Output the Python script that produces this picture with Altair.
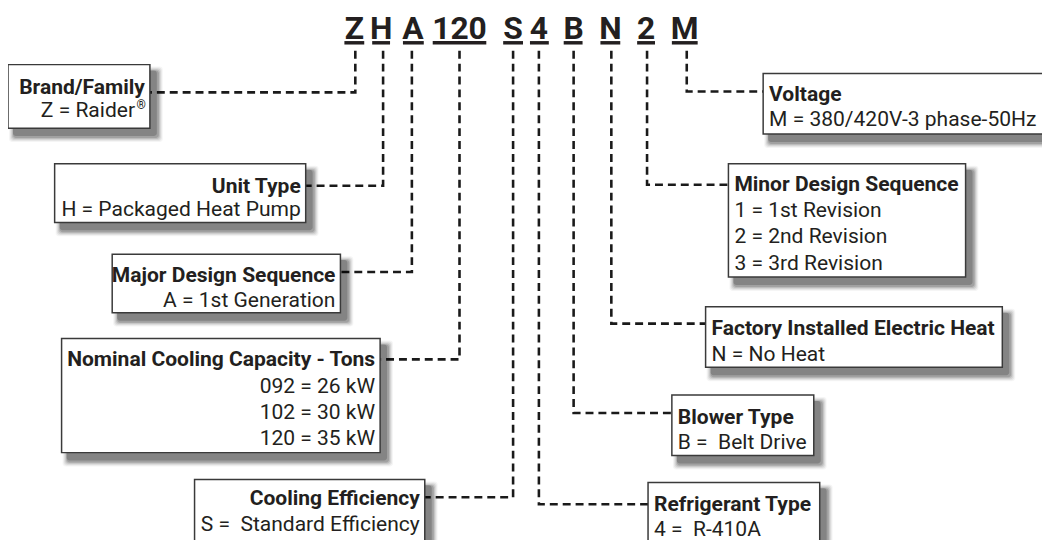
import altair as alt
import pandas as pd

NB = "\u00a0"

# ---- model code characters across the top ----
code_labels = ["Z", "H", "A", "120", "S", "4", "B", "N", "2", "M"]
code_x = [357, 384, 416, 463, 517, 543, 578, 615, 651, 690]
code_ul_left = [347, 375, 406, 436, 507, 534, 568, 605, 642, 677]
code_ul_right = [367, 393, 427, 490, 527, 553, 587, 625, 660, 703]
code_baseline = 37
code_ul_y = 41

# ---- leader lines (vertical from the code, then horizontal to the box) ----
lead_x = [358, 386, 415, 463, 517, 543, 578, 616, 652, 692]
lead_top = 49
lead_turn_y = [91, 185, 272, 360, 499, 506, 414, 324, 184, 90]
lead_end_x = [151, 308, 343, 383, 428, 653, 677, 711, 734, 769]

# ---- description boxes ----
box_titles = ["Brand/Family", "Unit Type", "Major Design Sequence",
              "Nominal Cooling Capacity - Tons", "Cooling Efficiency",
              "Refrigerant Type", "Blower Type", "Factory Installed Electric Heat",
              "Minor Design Sequence", "Voltage"]
box_lines = [["Z = Raider"], ["H = Packaged Heat Pump"], ["A = 1st Generation"],
             ["092 = 26 kW", "102 = 30 kW", "120 = 35 kW"],
             ["S = " + NB + "Standard Efficiency"], ["4 = " + NB + "R-410A"], ["B = " + NB + "Belt Drive"],
             ["N = No Heat"],
             ["1 = 1st Revision", "2 = 2nd Revision", "3 = 3rd Revision"],
             ["M = 380/420V-3 phase-50Hz"]]
box_side = ["left"] * 5 + ["right"] * 5
box_left = [8, 55, 113, 62, 196, 653, 677, 711, 734, 769]
box_top = [63, 163, 254, 339, 481, 484, 396, 307, 163, 72]
box_right = [151, 308, 343, 383, 428, 826, 820, 1010, 973, 1058]
box_bottom = [127, 222, 313, 454, 562, 562, 457, 368, 277, 133]
title_baseline = [93, 192, 282, 367, 507, 513, 425, 335, 190, 100]
line_gap = [23, 24, 25, 26.5, 26, 25, 25, 27, 26.5, 25]
text_pad = 5

# ---- build tables ----
codes = pd.DataFrame({"label": code_labels, "x": code_x, "y": [code_baseline] * 10,
                      "ul1": code_ul_left, "ul2": code_ul_right, "uly": [code_ul_y] * 10})

lead_rows = []
for i in range(10):
    pts = [(lead_x[i], lead_top), (lead_x[i], lead_turn_y[i]), (lead_end_x[i], lead_turn_y[i])]
    for k, (px, py) in enumerate(pts):
        lead_rows.append({"id": i, "k": k, "x": px, "y": py})
leads = pd.DataFrame(lead_rows)

boxes = pd.DataFrame({"x": box_left, "x2": box_right, "y": box_top, "y2": box_bottom})

shadow_rows = []
for (dx, dy, grow, op) in [(1, 2, 12, 0.04), (2, 3, 10, 0.06), (3, 4, 8, 0.08), (4, 5, 6, 0.11),
                           (5, 6, 4, 0.14), (5, 6, 2, 0.18)]:
    for i in range(10):
        shadow_rows.append({"x": box_left[i] + dx, "x2": box_right[i] + dx + grow,
                            "y": box_top[i] + dy, "y2": box_bottom[i] + dy + grow, "op": op})
shadows = pd.DataFrame(shadow_rows)

text_rows = []
for i in range(10):
    tx = box_right[i] - text_pad if box_side[i] == "left" else box_left[i] + text_pad + 1
    text_rows.append({"x": tx, "y": title_baseline[i], "text": box_titles[i],
                      "side": box_side[i], "kind": "title"})
    for j, line in enumerate(box_lines[i]):
        text_rows.append({"x": tx - (10 if i == 0 else 0), "y": title_baseline[i] + line_gap[i] * (j + 1),
                          "text": line, "side": box_side[i], "kind": "value"})
texts = pd.DataFrame(text_rows)
reg = pd.DataFrame({"x": [box_right[0] - 4], "y": [title_baseline[0] + line_gap[0] - 8], "text": ["®"]})

xs = alt.Scale(domain=[8, 1050], nice=False, zero=False)
ys = alt.Scale(domain=[8, 542], nice=False, zero=False, reverse=True)
X = lambda f: alt.X(f, type="quantitative", scale=xs, axis=None)
Y = lambda f: alt.Y(f, type="quantitative", scale=ys, axis=None)

FONT = "Roboto"
INK = "#231f20"
FS = 21.2

shadow_layer = alt.Chart(shadows).mark_rect(color="#000000", clip=True, cornerRadius=3).encode(
    x=X("x"), x2="x2", y=Y("y"), y2="y2", opacity=alt.Opacity("op:Q", scale=None))

box_layer = alt.Chart(boxes).mark_rect(fill="white", stroke="#3a3a3a", strokeWidth=1.5, clip=True).encode(
    x=X("x"), x2="x2", y=Y("y"), y2="y2")

lead_layer = alt.Chart(leads).mark_line(color="#1a1a1a", strokeWidth=2.6, strokeDash=[8, 5],
                                        strokeCap="butt", strokeJoin="miter").encode(
    x=X("x"), y=Y("y"), detail="id:N", order="k:Q")

ul_layer = alt.Chart(codes).mark_rule(color=INK, strokeWidth=3.5).encode(
    x=X("ul1"), x2="ul2", y=Y("uly"))

code_layer = alt.Chart(codes).mark_text(font=FONT, fontSize=32, fontWeight="bold", color=INK,
                                        align="center", baseline="alphabetic").encode(
    x=X("x"), y=Y("y"), text="label:N")

def text_layer(side, kind):
    return alt.Chart(texts).transform_filter(
        (alt.datum.side == side) & (alt.datum.kind == kind)
    ).mark_text(font=FONT, fontSize=FS, fontWeight="bold" if kind == "title" else "normal",
                color=INK, align="right" if side == "left" else "left", baseline="alphabetic").encode(
        x=X("x"), y=Y("y"), text="text:N")

reg_layer = alt.Chart(reg).mark_text(font=FONT, fontSize=12, color=INK, align="right",
                                     baseline="alphabetic").encode(x=X("x"), y=Y("y"), text="text:N")

chart = alt.layer(
    lead_layer, shadow_layer, box_layer, ul_layer, code_layer,
    text_layer("left", "title"), text_layer("left", "value"),
    text_layer("right", "title"), text_layer("right", "value"), reg_layer
).properties(width=1042, height=534, padding=0, autosize="none", background="white"
).configure_view(strokeWidth=0)

chart.save("out.html", embed_options={"renderer": "svg", "actions": False})
